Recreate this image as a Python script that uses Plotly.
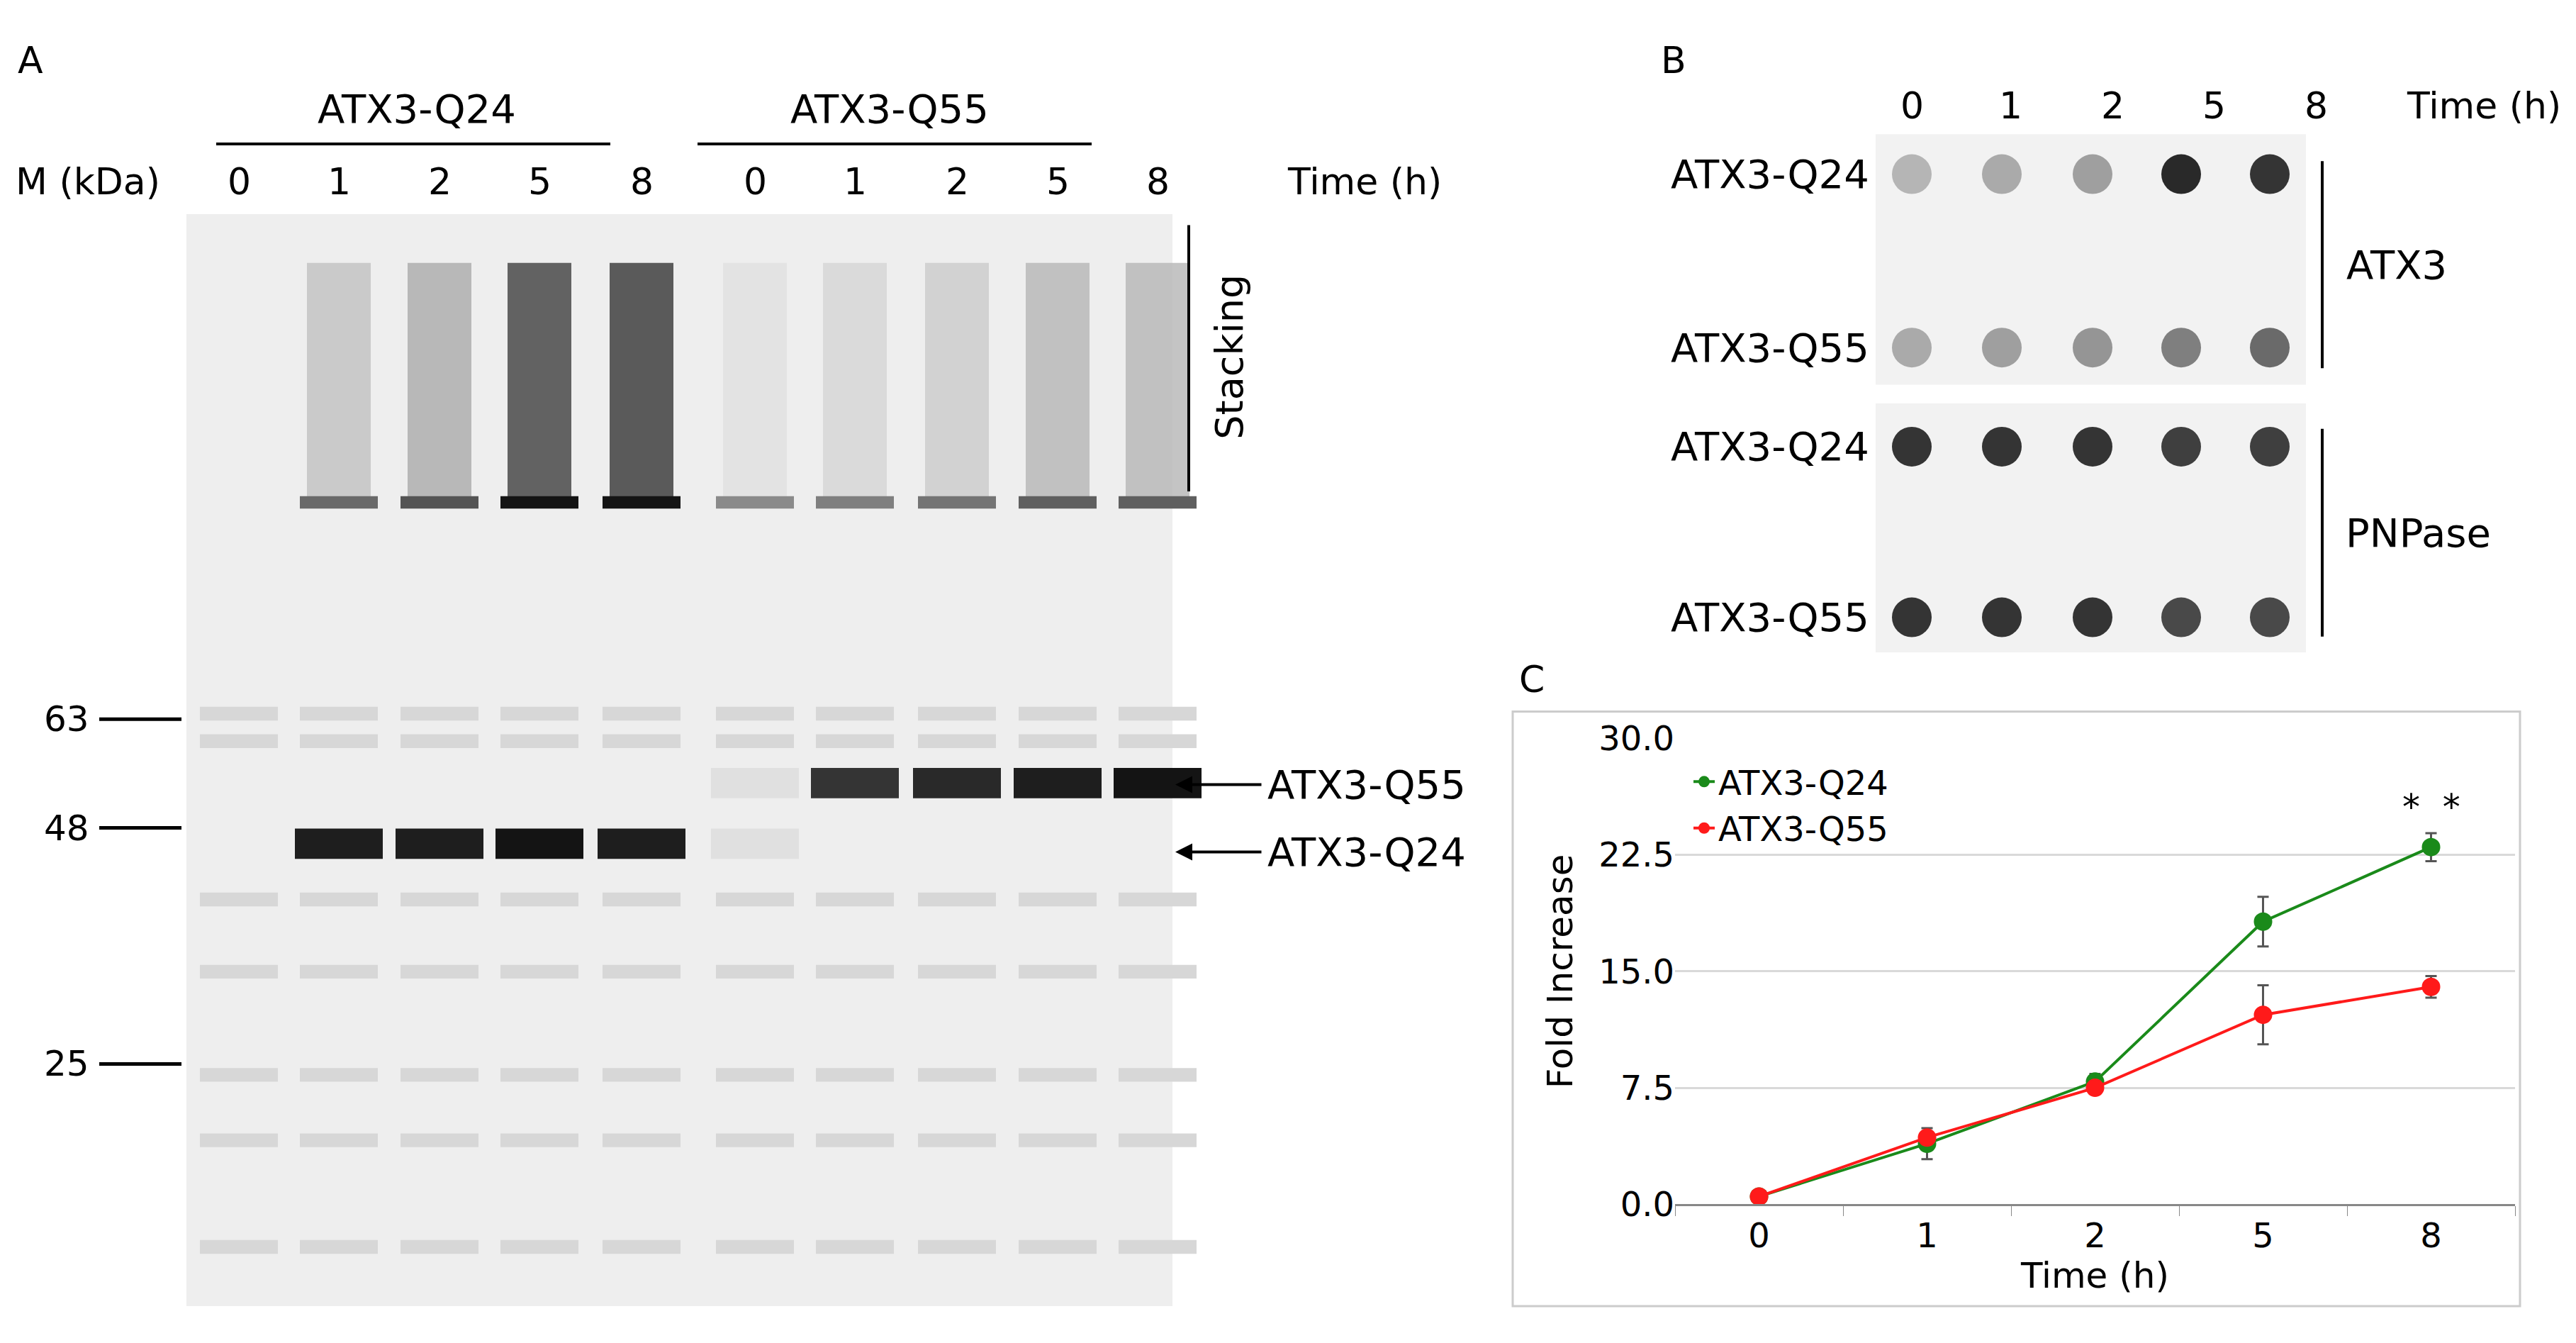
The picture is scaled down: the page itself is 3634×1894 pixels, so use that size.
import plotly.graph_objects as go

W, H = 3634, 1894

# panel C data
times = ["0", "1", "2", "5", "8"]
q24_mean = [0.5, 3.9, 7.9, 18.2, 23.0]
q24_err = [0.3, 1.0, 0.5, 1.6, 0.9]
q55_mean = [0.5, 4.3, 7.5, 12.2, 14.0]
q55_err = [0.3, 0.3, 0.3, 1.9, 0.7]

# panel A: band darkness (0 = none, 1 = black) per lane
gel_lanes = ["0", "1", "2", "5", "8", "0", "1", "2", "5", "8"]
q24_band = [0.0, 0.95, 0.95, 1.0, 0.95, 0.05, 0.0, 0.0, 0.0, 0.0]
q55_band = [0.0, 0.0, 0.0, 0.0, 0.0, 0.05, 0.85, 0.9, 0.95, 1.0]
stacking = [0.0, 0.2, 0.3, 0.8, 0.85, 0.05, 0.1, 0.15, 0.25, 0.25]
markers_kda = ["63", "48", "25"]

# panel B: dot darkness per row
dot_times = ["0", "1", "2", "5", "8"]
dot_rows = ["ATX3-Q24", "ATX3-Q55", "ATX3-Q24", "ATX3-Q55"]
dot_levels = [
    [0.25, 0.3, 0.35, 0.9, 0.85],
    [0.3, 0.35, 0.4, 0.5, 0.6],
    [0.85, 0.85, 0.85, 0.8, 0.8],
    [0.85, 0.85, 0.85, 0.75, 0.75],
]

FONT = "DejaVu Sans"
FS = 56


def gray(level):
    v = int(235 - 215 * level)
    return f"rgb({v},{v},{v})"


fig = go.Figure()

# ---- panel C chart
for name, mean, err, col in [("ATX3-Q24", q24_mean, q24_err, "#1a8a1a"),
                             ("ATX3-Q55", q55_mean, q55_err, "#ff1a1a")]:
    fig.add_trace(go.Scatter(
        x=times, y=mean, name=name, mode="lines+markers",
        line=dict(color=col, width=4), marker=dict(color=col, size=26),
        error_y=dict(type="data", array=err, color="#555555", thickness=3, width=8),
    ))

# ---- panel B dots (pixel-space axis)
dx = [2689, 2816, 2944, 3069, 3194]
tx_b = [2689, 2828, 2972, 3115, 3259]
dy = [216, 468, 612, 860]
for r, row in enumerate(dot_rows):
    fig.add_trace(go.Scatter(
        x=dx, y=[dy[r]] * len(dot_times), xaxis="x2", yaxis="y2", mode="markers",
        marker=dict(size=56, color=[gray(v) for v in dot_levels[r]], line=dict(width=0)),
        showlegend=False, hoverinfo="skip",
    ))

shapes = []
ann = [dict(x=times.index("8"), y=25.6, xref="x", yref="y", text="*  *", showarrow=False,
            font=dict(size=50, family=FONT, color="black"))]


def text(x, y, s, size=FS, xanchor="center", angle=0):
    ann.append(dict(x=x, y=y, xref="x2", yref="y2", text=s, showarrow=False,
                    xanchor=xanchor, yanchor="middle", textangle=angle,
                    font=dict(size=size, family=FONT, color="black")))


def line(x0, y0, x1, y1, w=4):
    shapes.append(dict(type="line", xref="x2", yref="y2", x0=x0, y0=y0, x1=x1, y1=y1,
                       line=dict(color="black", width=w)))


# panel A
text(35, 51, "A", 52)
text(580, 121, "ATX3-Q24")
text(1247, 121, "ATX3-Q55")
line(297, 172, 853, 172)
line(976, 172, 1532, 172)
text(116, 227, "M (kDa)", 52)
text(1917, 227, "Time (h)", 52)
lane_x = [329, 470, 612, 753, 897, 1057, 1198, 1342, 1484, 1625]
for lx, lab in zip(lane_x, gel_lanes):
    text(lx, 227, lab, 52)
shapes.append(dict(type="rect", xref="x2", yref="y2", x0=255, y0=274, x1=1646, y1=1861,
                   fillcolor="rgb(238,238,238)", line=dict(width=0), layer="below"))
for i, lx in enumerate(lane_x):
    if stacking[i] > 0:
        shapes.append(dict(type="rect", xref="x2", yref="y2", x0=lx - 45, y0=345, x1=lx + 45,
                           y1=690, fillcolor=gray(stacking[i]), line=dict(width=0),
                           opacity=0.8, layer="below"))
        shapes.append(dict(type="rect", xref="x2", yref="y2", x0=lx - 55, y0=684, x1=lx + 55,
                           y1=702, fillcolor=gray(min(1, stacking[i] + 0.4)),
                           line=dict(width=0), layer="below"))
    for lvl, by in [(q24_band[i], 1189), (q55_band[i], 1101)]:
        if lvl > 0:
            shapes.append(dict(type="rect", xref="x2", yref="y2", x0=lx - 62, y0=by - 22,
                               x1=lx + 62, y1=by + 22, fillcolor=gray(lvl),
                               line=dict(width=0), layer="below"))
    for by in [1000, 1040, 1270, 1375, 1525, 1620, 1775]:
        shapes.append(dict(type="rect", xref="x2", yref="y2", x0=lx - 55, y0=by - 10,
                           x1=lx + 55, y1=by + 10, fillcolor="rgb(215,215,215)",
                           line=dict(width=0), layer="below"))
for lab, my in zip(markers_kda, [1008, 1166, 1509]):
    text(86, my, lab, 50)
    line(132, my, 248, my, 5)
line(1669, 290, 1669, 677)
text(1727, 482, "Stacking", 54, angle=-90)
for lab, ay in [("ATX3-Q55", 1103), ("ATX3-Q24", 1201)]:
    ann.append(dict(x=1650, y=ay, ax=1773, ay=ay, xref="x2", yref="y2", axref="x2", ayref="y2",
                    showarrow=True, arrowhead=2, arrowsize=1.2, arrowwidth=4,
                    arrowcolor="black", text=""))
    text(1778, ay, lab, FS, xanchor="left")

# panel B
text(2353, 51, "B", 52)
for tx, lab in zip(tx_b, dot_times):
    text(tx, 116, lab, 52)
text(3496, 116, "Time (h)", 52)
for y0, y1 in [(158, 522), (549, 911)]:
    shapes.append(dict(type="rect", xref="x2", yref="y2", x0=2638, y0=y0, x1=3245, y1=y1,
                       fillcolor="rgb(242,242,242)", line=dict(width=0), layer="below"))
for r, row in enumerate(dot_rows):
    text(2631, dy[r], row, FS, xanchor="right")
line(3268, 197, 3268, 498)
text(3373, 348, "ATX3", FS)
line(3268, 586, 3268, 888)
text(3403, 737, "PNPase", FS)

# panel C frame and label
text(2153, 950, "C", 52)
shapes.append(dict(type="rect", xref="x2", yref="y2", x0=2126, y0=997, x1=3547, y1=1861,
                   line=dict(color="#cccccc", width=3), layer="below"))

fig.update_layout(
    width=W, height=H, paper_bgcolor="white", plot_bgcolor="rgba(0,0,0,0)",
    margin=dict(l=0, r=0, t=0, b=0),
    font=dict(family=FONT, color="black"),
    shapes=shapes, annotations=ann,
    xaxis=dict(domain=[2355 / W, 3540 / W], type="category", range=[-0.5, 4.5],
               tickson="boundaries", ticks="outside", ticklen=14, tickcolor="#888888",
               showline=True, linecolor="#888888", linewidth=3, showgrid=False,
               tickfont=dict(size=48), title=dict(text="Time (h)", font=dict(size=50), standoff=8)),
    yaxis=dict(domain=[1 - 1713 / H, 1 - 1036 / H], range=[0, 30], tickvals=[0, 7.5, 15, 22.5, 30],
               ticktext=["0.0", "7.5", "15.0", "22.5", "30.0"], tickfont=dict(size=48),
               gridcolor="#d9d9d9", gridwidth=3, zeroline=False, showline=False,
               title=dict(text="Fold Increase", font=dict(size=50), standoff=20)),
    xaxis2=dict(domain=[0, 1], range=[0, W], visible=False),
    yaxis2=dict(domain=[0, 1], range=[H, 0], visible=False, anchor="x2"),
    legend=dict(x=2376 / W, y=1 - 1060 / H, xanchor="left", yanchor="top",
                font=dict(size=48), bgcolor="rgba(0,0,0,0)", itemwidth=30),
)

fig.write_html("out.html")
